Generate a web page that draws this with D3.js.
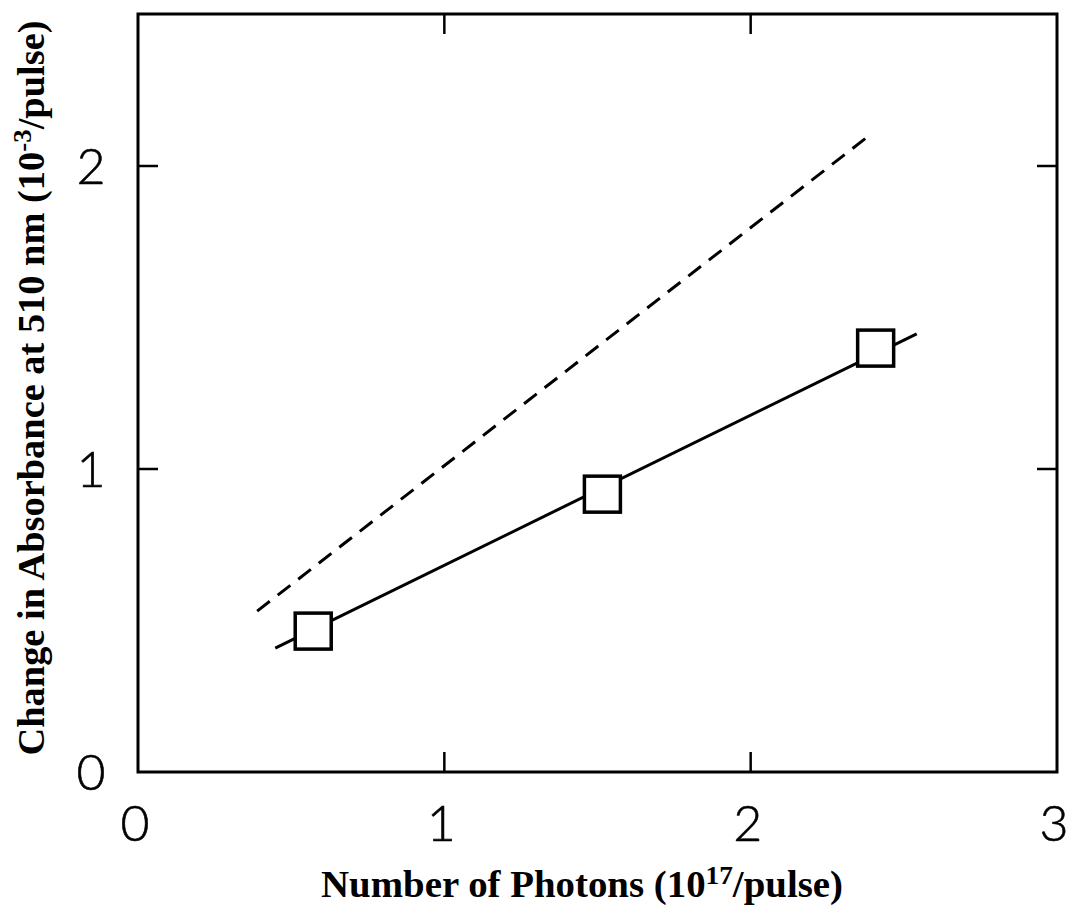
<!DOCTYPE html>
<html>
<head>
<meta charset="utf-8">
<script src="https://cdn.jsdelivr.net/npm/d3@7"></script>
<style>
  body { margin: 0; background: #fff; }
  .tick-label { font-family: Lato, "Open Sans", sans-serif; font-weight: 300; }
  .axis-title { font-family: "Liberation Serif", "Times New Roman", serif; font-weight: bold; }
</style>
</head>
<body>
<svg id="chart" width="1070" height="908"></svg>
<script>
'use strict';

// measured points (open squares)
var photons = [0.572, 1.516, 2.408];
var absorbance = [0.465, 0.917, 1.399];

// solid fit line, end points
var fitX = [0.448, 2.542];
var fitY = [0.409, 1.446];

// dashed line, end points
var dashX = [0.389, 2.399];
var dashY = [0.531, 2.11];

var xTicks = [0, 1, 2, 3];
var yTicks = [0, 1, 2];

var svg = d3.select('#chart');
var pLeft = 138, pRight = 1057, pTop = 14, pBottom = 772;

var x = d3.scaleLinear().domain([0, 3]).range([pLeft, pRight]);
var y = d3.scaleLinear().domain([0, 1]).range([pBottom, 469]);

// frame
svg.append('rect')
	.attr('x', pLeft).attr('y', pTop)
	.attr('width', pRight - pLeft).attr('height', pBottom - pTop)
	.attr('fill', 'none').attr('stroke', '#000').attr('stroke-width', 3);

// inward ticks on all four sides
var tl = 20;
xTicks.slice(1, -1).forEach(function(t) {
	svg.append('line').attr('x1', x(t)).attr('x2', x(t)).attr('y1', pBottom).attr('y2', pBottom - tl)
		.attr('stroke', '#000').attr('stroke-width', 2.5);
	svg.append('line').attr('x1', x(t)).attr('x2', x(t)).attr('y1', pTop).attr('y2', pTop + tl)
		.attr('stroke', '#000').attr('stroke-width', 2.5);
});
yTicks.slice(1).forEach(function(t) {
	svg.append('line').attr('x1', pLeft).attr('x2', pLeft + tl).attr('y1', y(t)).attr('y2', y(t))
		.attr('stroke', '#000').attr('stroke-width', 2.5);
	svg.append('line').attr('x1', pRight).attr('x2', pRight - tl).attr('y1', y(t)).attr('y2', y(t))
		.attr('stroke', '#000').attr('stroke-width', 2.5);
});

// tick labels
svg.selectAll('text.xt')
	.data(xTicks)
	.join('text')
	.attr('class', 'tick-label')
	.attr('x', function(d) { return x(d) - 3; })
	.attr('y', 841)
	.attr('text-anchor', 'middle')
	.attr('font-size', 50)
	.attr('stroke', '#000').attr('stroke-width', 0.6)
	.text(function(d) { return d; });

svg.selectAll('text.yt')
	.data(yTicks)
	.join('text')
	.attr('class', 'tick-label')
	.attr('x', 91)
	.attr('y', function(d) { return y(d) + 18; })
	.attr('text-anchor', 'middle')
	.attr('font-size', 50)
	.attr('stroke', '#000').attr('stroke-width', 0.6)
	.text(function(d) { return d; });

// axis titles
var xt = svg.append('text')
	.attr('class', 'axis-title')
	.attr('x', 582).attr('y', 897)
	.attr('text-anchor', 'middle')
	.attr('font-size', 37)
	.attr('textLength', 522).attr('lengthAdjust', 'spacingAndGlyphs');
xt.append('tspan').text('Number of Photons (10');
xt.append('tspan').attr('dy', -13).attr('font-size', 26).text('17');
xt.append('tspan').attr('dy', 13).text('/pulse)');

var yt = svg.append('text')
	.attr('class', 'axis-title')
	.attr('transform', 'translate(44,388) rotate(-90)')
	.attr('text-anchor', 'middle')
	.attr('font-size', 37)
	.attr('textLength', 735).attr('lengthAdjust', 'spacingAndGlyphs');
yt.append('tspan').text('Change in Absorbance at 510 nm  (10');
yt.append('tspan').attr('dy', -13).attr('font-size', 26).text('-3');
yt.append('tspan').attr('dy', 13).text('/pulse)');

var line = d3.line()
	.x(function(d) { return x(d[0]); })
	.y(function(d) { return y(d[1]); });

svg.append('path')
	.datum(d3.zip(dashX, dashY))
	.attr('d', line)
	.attr('fill', 'none').attr('stroke', '#000').attr('stroke-width', 3)
	.attr('stroke-dasharray', '16,10');

svg.append('path')
	.datum(d3.zip(fitX, fitY))
	.attr('d', line)
	.attr('fill', 'none').attr('stroke', '#000').attr('stroke-width', 3);

var sz = 36;
svg.selectAll('rect.pt')
	.data(d3.zip(photons, absorbance))
	.join('rect')
	.attr('class', 'pt')
	.attr('x', function(d) { return x(d[0]) - sz / 2; })
	.attr('y', function(d) { return y(d[1]) - sz / 2; })
	.attr('width', sz).attr('height', sz)
	.attr('fill', '#fff').attr('stroke', '#000').attr('stroke-width', 3.5);
</script>
</body>
</html>
